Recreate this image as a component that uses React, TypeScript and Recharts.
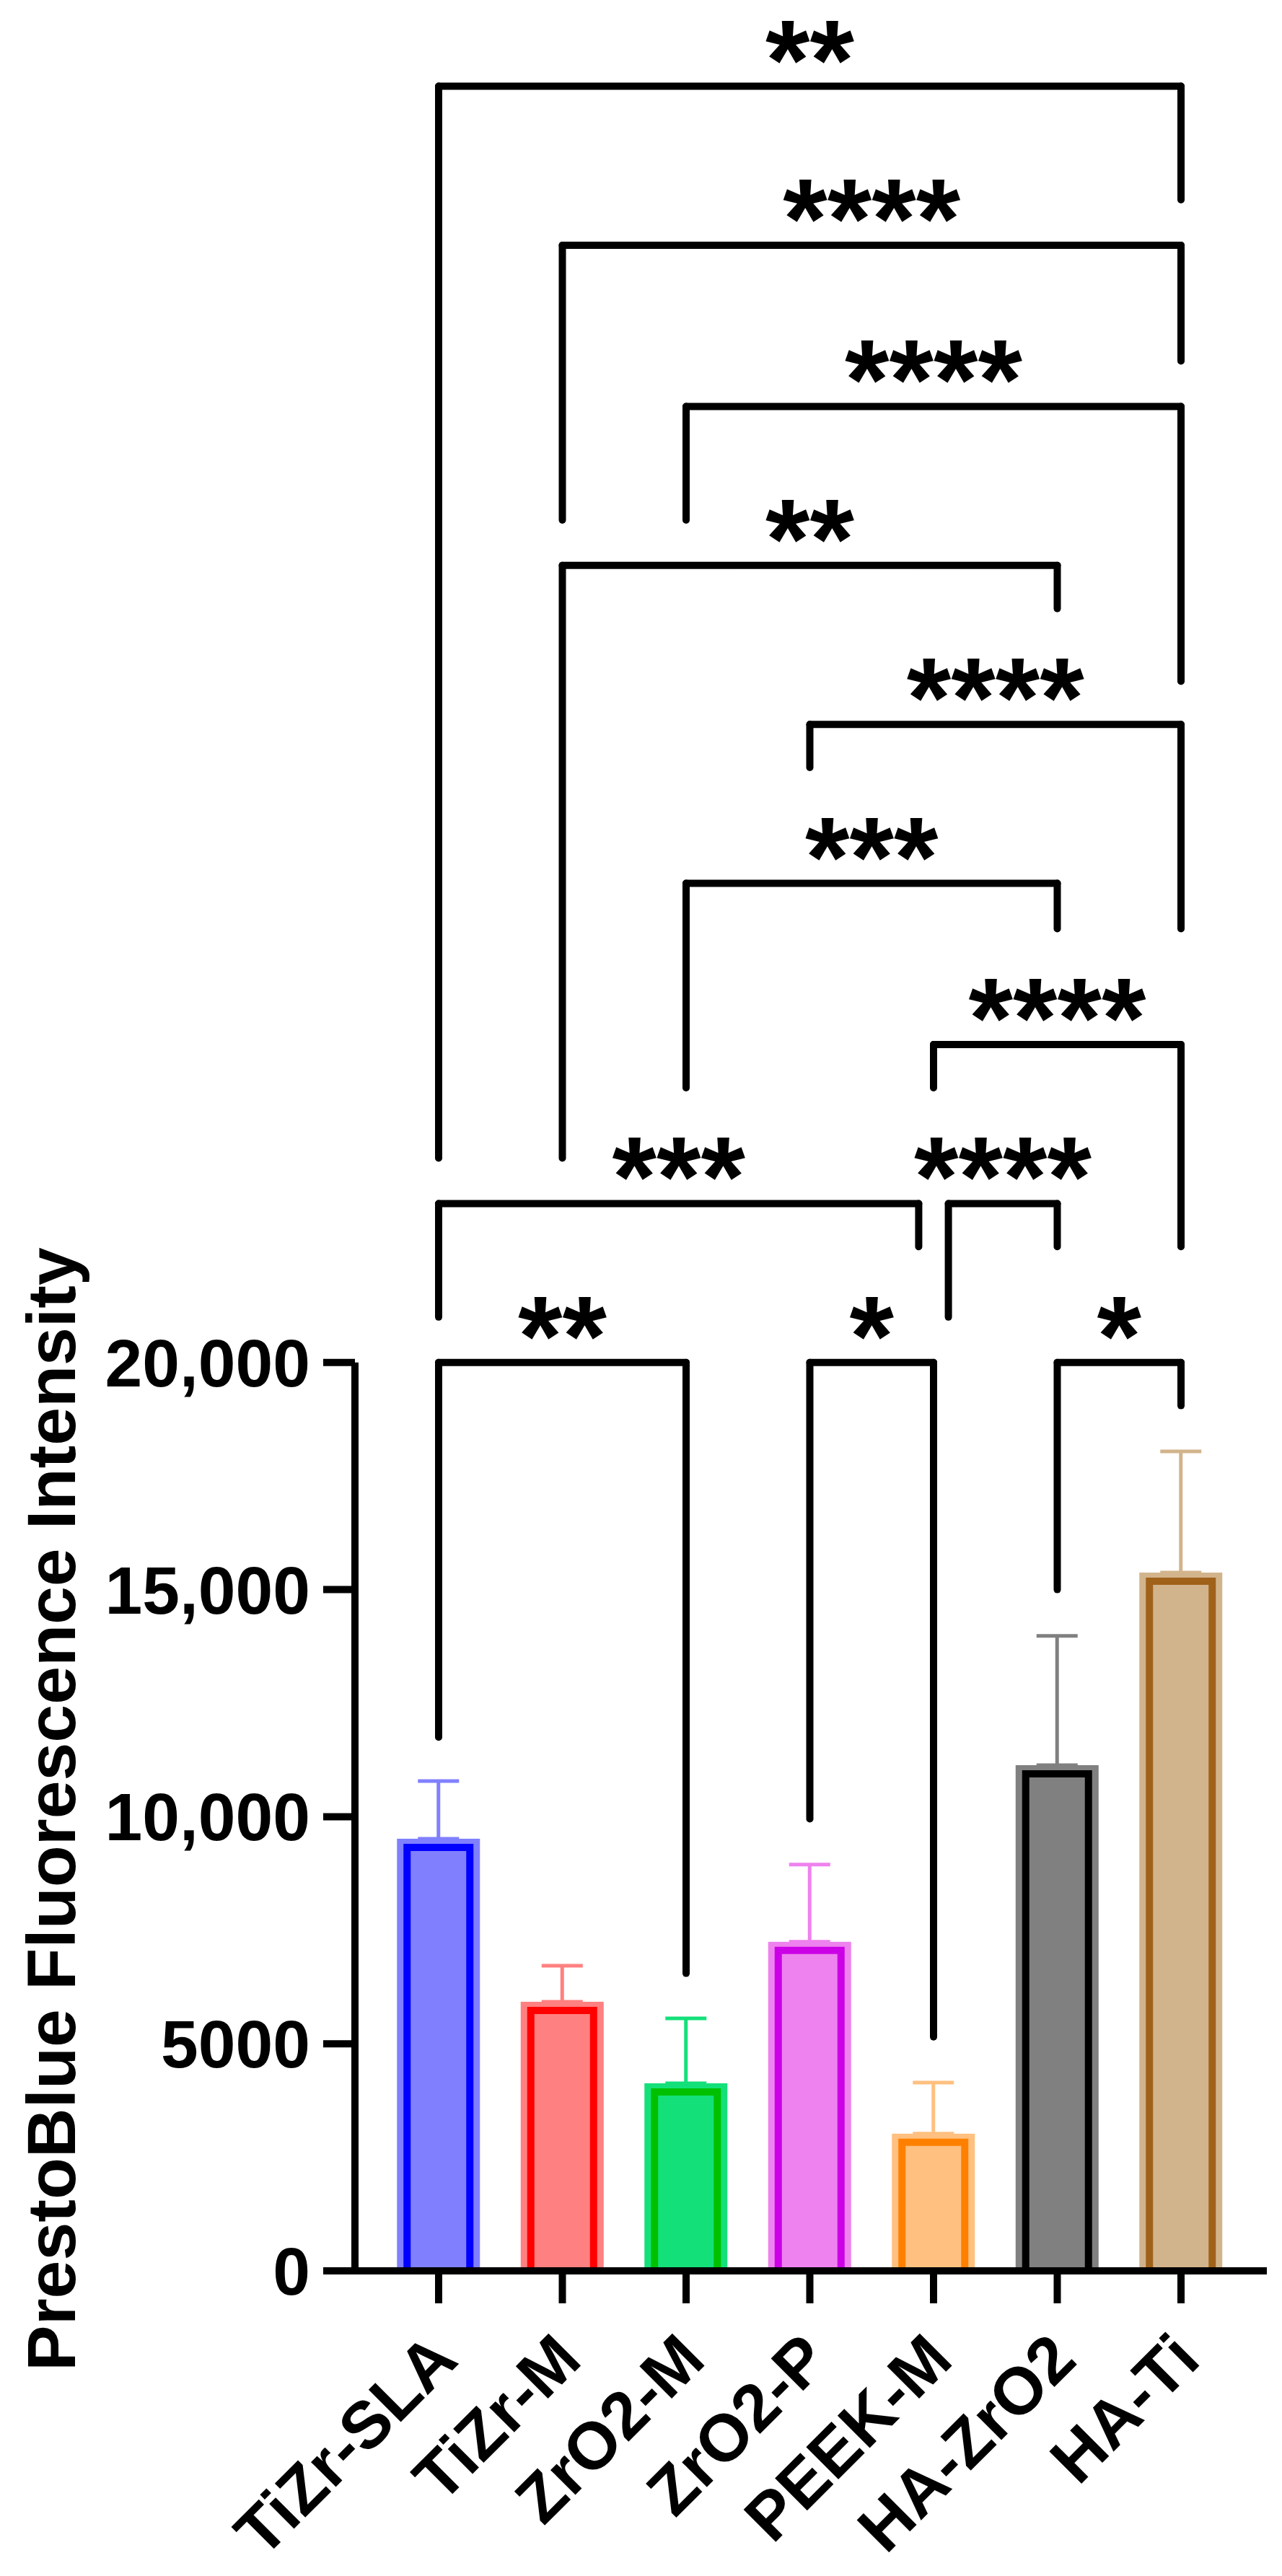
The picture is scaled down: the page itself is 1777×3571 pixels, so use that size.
import React from 'react';
import { BarChart, Bar, XAxis, YAxis, ErrorBar, ReferenceLine, ReferenceDot } from 'recharts';

const groups = ['TiZr-SLA', 'TiZr-M', 'ZrO2-M', 'ZrO2-P', 'PEEK-M', 'HA-ZrO2', 'HA-Ti'];
const means = [9515, 5925, 4130, 7245, 3020, 11135, 15375];
const sdUp = [1270, 795, 1430, 1700, 1125, 2845, 2670];
const yTicks = [0, 5000, 10000, 15000, 20000];

// significance brackets (positions are group indexes, heights in axis units)
const bracketFrom = [0, 1, 2, 1, 3, 2, 4, 0, 4.12, 0, 3, 5];
const bracketTo = [6, 6, 6, 5, 6, 5, 6, 3.88, 5, 2, 4, 6];
const bracketLevel = [48100, 44600, 41050, 37550, 34050, 30550, 27000, 23500, 23500, 20000, 20000, 20000];
const legLeft = [24500, 38550, 38550, 24500, 33100, 26050, 26050, 21000, 21000, 11750, 9950, 15000];
const legRight = [45600, 42050, 35000, 36600, 29550, 29550, 22550, 22550, 22550, 6550, 5150, 19050];
const stars = ['**', '****', '****', '**', '****', '***', '****', '***', '****', '**', '*', '*'];

const fills = ['#8080FF', '#FF8080', '#14E07A', '#EE82EE', '#FFC080', '#808080', '#D2B48C'];
const edges = ['#0000FF', '#FF0000', '#00C000', '#CC00E6', '#FF8000', '#000000', '#A0611A'];

const FONT = 'Liberation Sans, Arial, sans-serif';
const X_MIN = -0.6764;

const rows = groups.map((g, i) => {
    const row: any = { name: g, pos: i };
    row[`v${i}`] = means[i];
    row[`e${i}`] = [0, sdUp[i]];
    return row;
});

const OutlinedBar = (p: any) => {
    const { x, y, width, height, fill, edge } = p;
    if (!height || height <= 0) return <g />;
    const base = y + height - 5;
    return (
        <g>
            <rect x={x} y={y} width={width} height={height - 5} fill={fill} />
            <path
                d={`M${x + 14},${base} L${x + 14},${y + 12} L${x + width - 14},${y + 12} L${x + width - 14},${base}`}
                fill="none"
                stroke={edge}
                strokeWidth={10}
            />
        </g>
    );
};

const GroupTick = ({ x, y, payload }: any) => {
    const ax = x + 30;
    const ay = y + 82;
    return (
        <text
            x={ax}
            y={ay}
            textAnchor="end"
            transform={`rotate(-45, ${ax}, ${ay})`}
            fontSize={92}
            fontWeight="bold"
            fontFamily={FONT}
            fill="#000"
        >
            {payload.value}
        </text>
    );
};

const YTitle = () => (
    <text
        x={104}
        y={2508}
        textAnchor="middle"
        transform="rotate(-90, 104, 2508)"
        fontSize={95}
        fontWeight="bold"
        fontFamily={FONT}
        fill="#000"
    >
        PrestoBlue Fluorescence Intensity
    </text>
);

const fmt = (v: number) => (v >= 10000 ? v.toLocaleString('en-US') : String(v));

const App: React.FC = () => {
    const line = { stroke: '#000', strokeWidth: 10, strokeLinecap: 'round' as const };
    return (
        <div style={{ position: 'absolute', left: 0, top: 0, background: '#fff' }}>
            <BarChart width={1777} height={3571} data={rows} margin={{ top: 0, right: 21, bottom: 0, left: 0 }}>
                <XAxis
                    xAxisId="cat"
                    dataKey="name"
                    type="category"
                    padding={{ left: 30.25, right: 33.25 }}
                    height={423}
                    axisLine={{ stroke: '#000', strokeWidth: 10 }}
                    tickLine={{ stroke: '#000', strokeWidth: 10 }}
                    tickSize={45}
                    tickMargin={0}
                    interval={0}
                    tick={<GroupTick />}
                />
                <XAxis
                    xAxisId="pos"
                    dataKey="pos"
                    type="number"
                    domain={[0, 6]}
                    padding={{ left: 116, right: 119 }}
                    allowDataOverflow
                    hide
                />
                <YAxis
                    type="number"
                    domain={[0, 50000]}
                    ticks={yTicks}
                    width={492}
                    axisLine={false}
                    tickLine={{ stroke: '#000', strokeWidth: 10 }}
                    tickSize={44}
                    tickMargin={18}
                    tickFormatter={fmt}
                    tick={{ fontSize: 93, fontWeight: 'bold', fill: '#000', fontFamily: FONT }}
                    label={{ content: () => <YTitle /> }}
                    allowDataOverflow
                />
                <ReferenceLine
                    xAxisId="pos"
                    ifOverflow="visible"
                    segment={[{ x: X_MIN, y: 0 }, { x: X_MIN, y: 20000 }]}
                    stroke="#000"
                    strokeWidth={10}
                />
                {groups.map((g, i) => (
                    <Bar
                        key={g}
                        xAxisId="cat"
                        dataKey={`v${i}`}
                        stackId="all"
                        fill={fills[i]}
                        barSize={115}
                        isAnimationActive={false}
                        shape={(p: any) => <OutlinedBar {...p} edge={edges[i]} />}
                    >
                        <ErrorBar dataKey={`e${i}`} direction="y" width={28.5} stroke={fills[i]} strokeWidth={5} />
                    </Bar>
                ))}
                {bracketLevel.map((lv, k) => (
                    <ReferenceLine
                        key={`h${k}`}
                        xAxisId="pos"
                        ifOverflow="visible"
                        segment={[{ x: bracketFrom[k], y: lv }, { x: bracketTo[k], y: lv }]}
                        {...line}
                    />
                ))}
                {bracketLevel.map((lv, k) => (
                    <ReferenceLine
                        key={`l${k}`}
                        xAxisId="pos"
                        ifOverflow="visible"
                        segment={[{ x: bracketFrom[k], y: lv }, { x: bracketFrom[k], y: legLeft[k] }]}
                        {...line}
                    />
                ))}
                {bracketLevel.map((lv, k) => (
                    <ReferenceLine
                        key={`r${k}`}
                        xAxisId="pos"
                        ifOverflow="visible"
                        segment={[{ x: bracketTo[k], y: lv }, { x: bracketTo[k], y: legRight[k] }]}
                        {...line}
                    />
                ))}
                {bracketLevel.map((lv, k) => (
                    <ReferenceDot
                        key={`s${k}`}
                        xAxisId="pos"
                        ifOverflow="visible"
                        x={(bracketFrom[k] + bracketTo[k]) / 2}
                        y={lv}
                        r={0}
                        shape={(p: any) => (
                            <text
                                x={p.cx}
                                y={p.cy + 18}
                                textAnchor="middle"
                                fontSize={158}
                                fontWeight="bold"
                                fontFamily={FONT}
                                fill="#000"
                            >
                                {stars[k]}
                            </text>
                        )}
                    />
                ))}
            </BarChart>
        </div>
    );
};

export default App;
